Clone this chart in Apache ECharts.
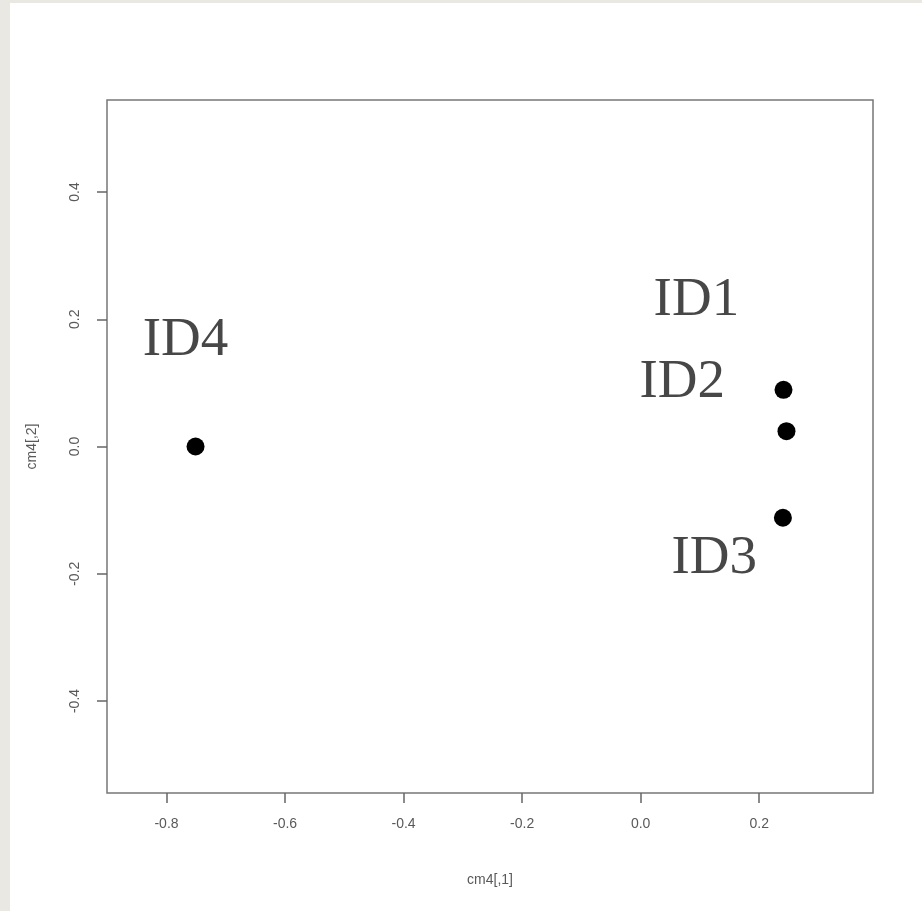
<!DOCTYPE html>
<html>
<head>
    <meta charset="utf-8" />
    <title>cm4 MDS</title>
    <script src="https://cdn.jsdelivr.net/npm/echarts@6.0.0/dist/echarts.min.js"></script>
    <style>
        html, body { margin: 0; padding: 0; background: #e9e8e3; }
        #main { position: absolute; left: 10px; top: 3px; width: 912px; height: 908px; background: #ffffff; }
    </style>
</head>
<body>
    <div id="main"></div>
    <script type="text/javascript">
        // 点坐标 cm4[,1], cm4[,2]
        var pointX = [-0.751, 0.241, 0.246, 0.240];
        var pointY = [0.000, 0.089, 0.024, -0.112];

        // 文字标签及其位置
        var labelNames = ['ID1', 'ID2', 'ID3', 'ID4'];
        var labelX = [0.094, 0.070, 0.124, -0.768];
        var labelY = [0.230, 0.101, -0.176, 0.166];

        // 刻度
        var xTicks = [-0.8, -0.6, -0.4, -0.2, 0.0, 0.2];
        var yTicks = [-0.4, -0.2, 0.0, 0.2, 0.4];

        var myChart = echarts.init(document.getElementById('main'));

        var points = pointX.map(function (x, i) { return [x, pointY[i]]; });
        var labels = labelNames.map(function (n, i) {
            return { name: n, value: [labelX[i], labelY[i]] };
        });

        var tickStyle = { color: '#666', width: 1.5 };
        var tickFont = { color: '#595959', fontFamily: 'Liberation Sans', fontSize: 14 };

        var option = {
            animation: false,
            grid: {
                left: 97, top: 97, width: 766, height: 693,
                show: true, borderColor: '#777', borderWidth: 1.5,
                backgroundColor: '#fff'
            },
            xAxis: {
                type: 'value',
                min: -0.9004, max: 0.392,
                name: 'cm4[,1]',
                nameLocation: 'middle',
                nameGap: 80,
                nameTextStyle: tickFont,
                splitLine: { show: false },
                axisLine: { show: false, onZero: false },
                axisTick: { show: true, length: 10, lineStyle: tickStyle, customValues: xTicks },
                axisLabel: Object.assign({ margin: 24, customValues: xTicks,
                    formatter: function (v) { return v.toFixed(1); } }, tickFont)
            },
            yAxis: {
                type: 'value',
                min: -0.5446, max: 0.5446,
                name: 'cm4[,2]',
                nameLocation: 'middle',
                nameGap: 68,
                nameRotate: 90,
                nameTextStyle: tickFont,
                splitLine: { show: false },
                axisLine: { show: false, onZero: false },
                axisTick: { show: true, length: 10, lineStyle: tickStyle, customValues: yTicks },
                axisLabel: Object.assign({ margin: 25, rotate: 90, customValues: yTicks,
                    formatter: function (v) { return v.toFixed(1); } }, tickFont)
            },
            series: [
                {
                    type: 'scatter',
                    data: points,
                    symbol: 'circle',
                    symbolSize: 18,
                    itemStyle: { color: '#000', opacity: 1 },
                    z: 3
                },
                {
                    type: 'scatter',
                    data: labels,
                    symbolSize: 0,
                    itemStyle: { opacity: 1 },
                    label: {
                        show: true,
                        position: 'inside',
                        formatter: '{b}',
                        color: '#474747',
                        fontFamily: 'Liberation Serif',
                        fontSize: 55
                    },
                    z: 2
                }
            ]
        };

        myChart.setOption(option);
    </script>
</body>
</html>
